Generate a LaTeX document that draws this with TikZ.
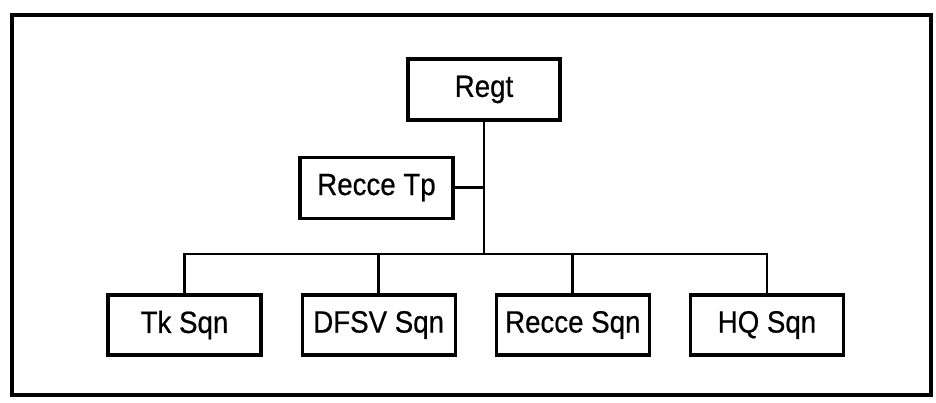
\documentclass[tikz,border=0pt]{standalone}
\usepackage{fontspec}
\setmainfont{Liberation Sans}[FakeStretch=0.9, FakeBold=0.6]
\usepackage{tikz}
\usetikzlibrary{positioning}
\tikzset{
  unit/.style={rectangle, draw=black, line width=1.8pt, minimum width=3.06cm, minimum height=1.2cm, inner sep=0pt, align=center, font=\fontsize{17.5}{19}\selectfont},
  link/.style={line width=1.6pt},
  frame/.style={line width=2pt},
}

\begin{document}
\begin{tikzpicture}[node distance=0.76cm]
\useasboundingbox (0,0) rectangle (18.72,8.06);
\draw[frame] (0.24,0.16) rectangle (18.62,7.76);
\node (regt) [unit, minimum width=3.04cm, minimum height=1.22cm] at (9.68,6.27) {Regt};
\node (tp) [unit, minimum height=1.22cm, below=0.68cm of regt, xshift=-2.15cm] {Recce Tp};
\node (tk) [unit] at (3.69,1.56) {Tk Sqn};
\node (dfsv) [unit, right=of tk] {DFSV Sqn};
\node (recce) [unit, right=of dfsv] {Recce Sqn};
\node (hq) [unit, right=of recce] {HQ Sqn};
\coordinate (bus) at (9.68,2.98);
% trunk and bus
\draw[link] (regt.south) -- (bus);
\draw[link] (tp.east) -- (tp.east -| regt.south);
\draw[link] (tk.north) -- (tk.north |- bus) -- (hq.north |- bus) -- (hq.north);
\draw[link] (dfsv.north) -- (dfsv.north |- bus);
\draw[link] (recce.north) -- (recce.north |- bus);
\end{tikzpicture}
\end{document}
